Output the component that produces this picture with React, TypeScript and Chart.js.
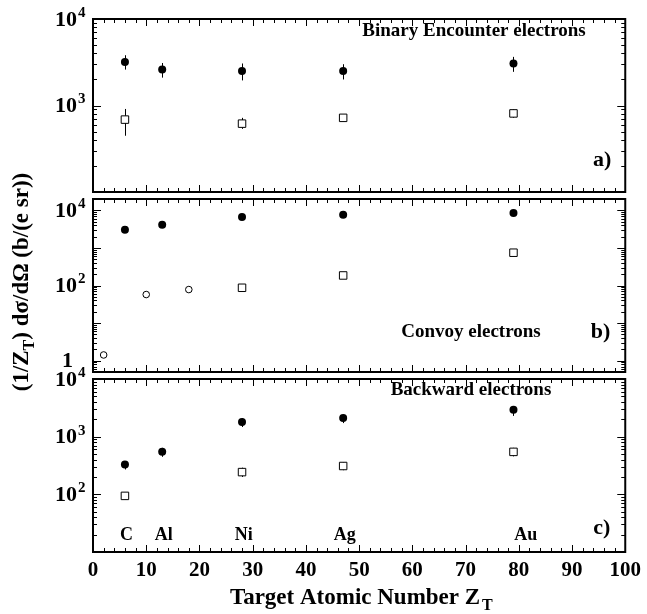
import React, { useEffect, useRef } from 'react';
import { Chart, registerables } from 'chart.js';

Chart.register(...registerables);

// ---- data ----
const targetZ = [6, 13, 28, 47, 79];
const elementNames = ['C', 'Al', 'Ni', 'Ag', 'Au'];
const elementLabelZ = [6.3, 13.3, 28.3, 47.3, 81.3];

// a) Binary Encounter electrons
const beFilled = [3190, 2600, 2510, 2500, 3060];
const beFilledLo = [2600, 2100, 1950, 2000, 2450];
const beFilledHi = [3810, 3100, 3060, 3000, 3650];
const beOpenZ = [6, 28, 47, 79];
const beOpen = [687, 617, 720, 810];
const beOpenLo = [447, 537, 660, 720];
const beOpenHi = [912, 720, 790, 900];

// b) Convoy electrons
const cvFilled = [3050, 4150, 6620, 7680, 8500];
const cvSquareZ = [28, 47, 79];
const cvSquare = [87, 185, 745];
const cvCircleZ = [2, 10, 18];
const cvCircle = [1.42, 57.5, 78];

// c) Backward electrons
const bwFilled = [329, 545, 1790, 2100, 2930];
const bwFilledLo = [270, 447, 1470, 1720, 2290];
const bwFilledHi = [370, 640, 2090, 2400, 3300];
const bwOpenZ = [6, 28, 47, 79];
const bwOpen = [94, 243, 310, 545];
const bwOpenLo = [82, 200, 262, 455];
const bwOpenHi = [104, 290, 360, 640];

// axis ranges & labels
const rangeA = [100, 10000];
const rangeB = [0.5, 20000];
const rangeC = [10, 10000];
const tickLabelsA = [1000, 10000];
const tickLabelsB = [1, 100, 10000];
const tickLabelsC = [100, 1000, 10000];
const xTicks = [0, 10, 20, 30, 40, 50, 60, 70, 80, 90, 100];

const FONT = '"Liberation Serif", "Times New Roman", serif';

const pts = (xs: number[], ys: number[]) => xs.map((x, i) => ({ x, y: ys[i] }));

const errorBars = [
  { axis: 'ya', xs: targetZ, lo: beFilledLo, hi: beFilledHi },
  { axis: 'ya', xs: beOpenZ, lo: beOpenLo, hi: beOpenHi },
  { axis: 'yc', xs: targetZ, lo: bwFilledLo, hi: bwFilledHi },
  { axis: 'yc', xs: bwOpenZ, lo: bwOpenLo, hi: bwOpenHi },
];

function drawLogTicks(ctx: CanvasRenderingContext2D, s: any, left: number, right: number) {
  const lo = Math.floor(Math.log10(s.min));
  const hi = Math.ceil(Math.log10(s.max));
  for (let d = lo; d <= hi; d++) {
    for (let m = 1; m <= 9; m++) {
      const v = m * Math.pow(10, d);
      if (v < s.min * 0.999 || v > s.max * 1.001) continue;
      const y = Math.round(s.getPixelForValue(v)) + 0.5;
      const len = m === 1 ? 8 : 4;
      ctx.beginPath();
      ctx.moveTo(left, y);
      ctx.lineTo(left + len, y);
      ctx.moveTo(right, y);
      ctx.lineTo(right - len, y);
      ctx.stroke();
    }
  }
}

function drawTickLabels(ctx: CanvasRenderingContext2D, s: any, values: number[]) {
  for (const v of values) {
    const y = s.getPixelForValue(v);
    const e = Math.round(Math.log10(v));
    ctx.fillStyle = '#000';
    ctx.textBaseline = 'middle';
    if (e === 0) {
      ctx.font = `bold 22px ${FONT}`;
      ctx.textAlign = 'right';
      ctx.fillText('1', 73, y + 1);
      continue;
    }
    ctx.font = `bold 22px ${FONT}`;
    ctx.textAlign = 'right';
    ctx.fillText('10', 77, y + 1);
    ctx.font = `bold 15px ${FONT}`;
    ctx.textAlign = 'left';
    ctx.fillText(String(e), 78, y - 6);
  }
}

const panelPlugin = {
  id: 'panelPlugin',
  beforeDatasetsDraw(chart: any) {
    const ctx = chart.ctx as CanvasRenderingContext2D;
    const xs = chart.scales.x;
    ctx.save();
    ctx.strokeStyle = '#000';
    ctx.lineWidth = 1;
    for (const eb of errorBars) {
      const ys = chart.scales[eb.axis];
      eb.xs.forEach((xv, i) => {
        const px = Math.round(xs.getPixelForValue(xv)) + 0.5;
        ctx.beginPath();
        ctx.moveTo(px, ys.getPixelForValue(eb.lo[i]));
        ctx.lineTo(px, ys.getPixelForValue(eb.hi[i]));
        ctx.stroke();
      });
    }
    ctx.restore();
  },
  afterDraw(chart: any) {
    const ctx = chart.ctx as CanvasRenderingContext2D;
    const xs = chart.scales.x;
    const left = xs.left;
    const right = xs.right;
    ctx.save();
    const panels = [
      { s: chart.scales.ya, labels: tickLabelsA },
      { s: chart.scales.yb, labels: tickLabelsB },
      { s: chart.scales.yc, labels: tickLabelsC },
    ];
    for (const p of panels) {
      const s = p.s;
      ctx.strokeStyle = '#000';
      ctx.lineWidth = 1;
      // x ticks top & bottom
      for (let v = 0; v <= 100; v += 2) {
        const x = Math.round(xs.getPixelForValue(v)) + 0.5;
        const len = v % 10 === 0 ? 7 : 4;
        ctx.beginPath();
        ctx.moveTo(x, s.bottom);
        ctx.lineTo(x, s.bottom - len);
        ctx.moveTo(x, s.top);
        ctx.lineTo(x, s.top + len);
        ctx.stroke();
      }
      drawLogTicks(ctx, s, left, right);
      ctx.lineWidth = 2;
      ctx.strokeRect(left, s.top, right - left, s.bottom - s.top);
      drawTickLabels(ctx, s, p.labels);
    }

    const ya = chart.scales.ya;
    const yb = chart.scales.yb;
    const yc = chart.scales.yc;
    ctx.fillStyle = '#000';
    ctx.textBaseline = 'middle';
    ctx.textAlign = 'center';
    ctx.font = `bold 19px ${FONT}`;
    ctx.fillText('Binary Encounter electrons', 474, ya.top + 12);
    ctx.fillText('Convoy electrons', 471, yb.bottom - 40);
    ctx.fillText('Backward electrons', 471, yc.top + 11);
    ctx.font = `bold 18px ${FONT}`;
    elementNames.forEach((n, i) => {
      ctx.fillText(n, xs.getPixelForValue(elementLabelZ[i]), yc.bottom - 17);
    });
    ctx.font = `bold 22px ${FONT}`;
    ctx.textAlign = 'right';
    ctx.fillText('a)', right - 14, ya.bottom - 32);
    ctx.fillText('b)', right - 15, yb.bottom - 40);
    ctx.fillText('c)', right - 15, yc.bottom - 24);

    // x title
    ctx.textAlign = 'left';
    ctx.textBaseline = 'alphabetic';
    ctx.font = `bold 23px ${FONT}`;
    const main = 'Target Atomic Number Z';
    const wMain = ctx.measureText(main).width;
    const x0 = 228 + (254 - wMain) / 2;
    ctx.fillText(main, x0, 604);
    ctx.font = `bold 16px ${FONT}`;
    ctx.fillText('T', x0 + wMain + 2, 610);

    // y title (rotated)
    ctx.save();
    ctx.translate(28, 282);
    ctx.rotate(-Math.PI / 2);
    const partA = '(1/Z';
    const partB = ') d\u03c3/d\u03a9 (b/(e sr))';
    ctx.font = `bold 23px ${FONT}`;
    const wA = ctx.measureText(partA).width;
    const wB = ctx.measureText(partB).width;
    ctx.font = `bold 16px ${FONT}`;
    const wT = ctx.measureText('T').width;
    const total = wA + wT + wB;
    let cx = -total / 2;
    ctx.font = `bold 23px ${FONT}`;
    ctx.fillText(partA, cx, 0);
    cx += wA;
    ctx.font = `bold 16px ${FONT}`;
    ctx.fillText('T', cx, 6);
    cx += wT;
    ctx.font = `bold 23px ${FONT}`;
    ctx.fillText(partB, cx, 0);
    ctx.restore();

    ctx.restore();
  },
};

const filledStyle = {
  pointStyle: 'circle',
  pointRadius: 4,
  backgroundColor: '#000',
  borderColor: '#000',
  borderWidth: 0,
  showLine: false,
};
const squareStyle = {
  pointStyle: 'rect',
  pointRadius: 5.3,
  backgroundColor: '#fff',
  borderColor: '#000',
  borderWidth: 1,
  showLine: false,
};
const openCircleStyle = {
  pointStyle: 'circle',
  pointRadius: 3.3,
  backgroundColor: '#fff',
  borderColor: '#000',
  borderWidth: 1,
  showLine: false,
};

const yAxisBase = (range: number[], weight: number) => ({
  type: 'logarithmic',
  position: 'left',
  stack: 'panels',
  stackWeight: 173,
  weight,
  min: range[0],
  max: range[1],
  grid: { display: false },
  border: { display: false },
  ticks: { display: false },
  afterFit: (s: any) => {
    s.width = 93;
  },
});

const gapAxis = (weight: number) => ({
  type: 'linear',
  position: 'left',
  stack: 'panels',
  stackWeight: 7,
  weight,
  display: false,
});

export default function App() {
  const ref = useRef<HTMLCanvasElement | null>(null);
  useEffect(() => {
    if (!ref.current) return;
    const chart = new Chart(ref.current, {
      type: 'scatter',
      data: {
        datasets: [
          { ...filledStyle, yAxisID: 'ya', data: pts(targetZ, beFilled) },
          { ...squareStyle, yAxisID: 'ya', data: pts(beOpenZ, beOpen) },
          { ...filledStyle, yAxisID: 'yb', data: pts(targetZ, cvFilled) },
          { ...squareStyle, yAxisID: 'yb', data: pts(cvSquareZ, cvSquare) },
          { ...openCircleStyle, yAxisID: 'yb', data: pts(cvCircleZ, cvCircle) },
          { ...filledStyle, yAxisID: 'yc', data: pts(targetZ, bwFilled) },
          { ...squareStyle, yAxisID: 'yc', data: pts(bwOpenZ, bwOpen) },
        ] as any,
      },
      options: {
        animation: false,
        responsive: true,
        maintainAspectRatio: false,
        layout: { padding: { top: 19, right: 21, left: 0, bottom: 0 } },
        plugins: { legend: { display: false }, tooltip: { enabled: false } },
        scales: {
          x: {
            type: 'linear',
            position: 'bottom',
            min: 0,
            max: 100,
            afterBuildTicks: (s: any) => {
              s.ticks = xTicks.map((v) => ({ value: v }));
            },
            grid: { display: false, drawTicks: false },
            border: { display: false },
            ticks: {
              color: '#000',
              padding: 6,
              maxRotation: 0,
              autoSkip: false,
              font: { family: FONT, size: 21, weight: 'bold' },
            },
            afterFit: (s: any) => {
              s.height = 62;
            },
          },
          ya: yAxisBase(rangeA, 10),
          gap1: gapAxis(8),
          yb: yAxisBase(rangeB, 6),
          gap2: gapAxis(4),
          yc: yAxisBase(rangeC, 2),
        } as any,
      },
      plugins: [panelPlugin],
    });
    return () => chart.destroy();
  }, []);
  return (
    <div style={{ position: 'absolute', left: 0, top: 0, width: 647, height: 614, background: '#fff' }}>
      <canvas ref={ref} />
    </div>
  );
}
